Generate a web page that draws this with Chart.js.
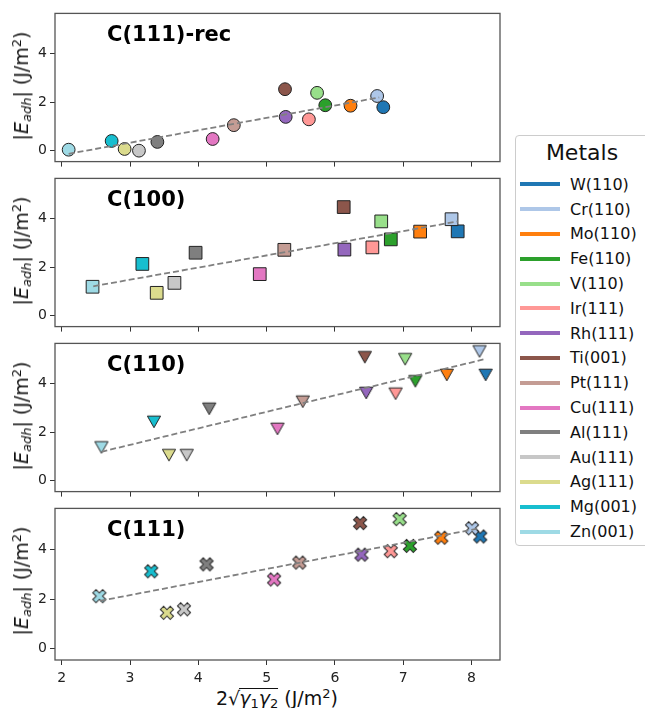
<!DOCTYPE html>
<html>
<head>
<meta charset="utf-8">
<script src="https://cdn.jsdelivr.net/npm/chart.js@4.4.0/dist/chart.umd.min.js"></script>
<style>
  body { margin: 0; background: #fff; width: 645px; height: 708px; overflow: hidden; position: relative; font-family: 'DejaVu Sans', sans-serif; color: #111; }
  .panel { position: absolute; left: 0; }
  .ylabel { position: absolute; left: 22px; transform: translate(-50%, -50%) rotate(-90deg); white-space: nowrap; font-size: 19px; line-height: 22px; }
  .ylabel sub { font-size: 13px; font-style: italic; vertical-align: -3px; }
  .ylabel sup, .xlabel sup { font-size: 13px; vertical-align: 7px; }
  .xlabel { position: absolute; left: 277px; top: 683px; transform: translateX(-50%); white-space: nowrap; font-size: 19px; line-height: 22px; }
  .xlabel .rad { display: inline-block; line-height: 18px; border-top: 1.3px solid #111; margin-left: -1px; }
  .xlabel sub { font-size: 13px; vertical-align: -3px; line-height: 10px; }
  #legend { position: absolute; left: 515px; top: 135px; width: 140px; height: 411px; border: 1px solid #ccc; border-radius: 4px; box-sizing: border-box; }
  #legend .title { font-size: 22px; text-align: center; width: 132px; margin-top: 4px; height: 32px; }
  #legend .row { height: 24.8px; display: flex; align-items: center; font-size: 16px; }
  #legend .swatch { width: 40px; height: 4px; margin-left: 4px; margin-right: 10px; }
</style>
</head>
<body>
<div id="legend"></div>
<div class="xlabel">2√<span class="rad"><i>γ</i><sub>1</sub><i>γ</i><sub>2</sub></span> (J/m<sup>2</sup>)</div>
<script>
// Metals, in legend order
const metals = ['W(110)', 'Cr(110)', 'Mo(110)', 'Fe(110)', 'V(110)', 'Ir(111)', 'Rh(111)', 'Ti(001)',
                'Pt(111)', 'Cu(111)', 'Al(111)', 'Au(111)', 'Ag(111)', 'Mg(001)', 'Zn(001)'];
const metalColors = ['#1f77b4', '#aec7e8', '#ff7f0e', '#2ca02c', '#98df8a', '#ff9896', '#9467bd', '#8c564b',
                     '#c49c94', '#e377c2', '#7f7f7f', '#c7c7c7', '#dbdb8d', '#17becf', '#9edae5'];

// C(111)-rec
const recX = [6.71, 6.62, 6.23, 5.86, 5.74, 5.62, 5.28, 5.27, 4.52, 4.21, 3.40, 3.13, 2.92, 2.73, 2.10];
const recY = [1.79, 2.25, 1.85, 1.87, 2.38, 1.29, 1.39, 2.53, 1.05, 0.48, 0.36, 0.00, 0.07, 0.40, 0.04];
const recFitX = [2.10, 6.65];
const recFitY = [-0.13, 2.19];

// C(100)
const c100X = [7.80, 7.71, 7.25, 6.82, 6.68, 6.55, 6.14, 6.13, 5.26, 4.90, 3.96, 3.65, 3.39, 3.18, 2.45];
const c100Y = [3.47, 3.97, 3.46, 3.14, 3.88, 2.81, 2.72, 4.47, 2.71, 1.71, 2.59, 1.35, 0.94, 2.13, 1.19];
const c100FitX = [2.46, 7.80];
const c100FitY = [1.21, 3.88];

// C(110)
const c110X = [8.21, 8.12, 7.64, 7.18, 7.03, 6.89, 6.46, 6.44, 5.53, 5.16, 4.16, 3.83, 3.57, 3.35, 2.58];
const c110Y = [4.35, 5.32, 4.35, 4.09, 5.00, 3.58, 3.61, 5.08, 3.25, 2.13, 2.96, 1.05, 1.05, 2.42, 1.37];
const c110FitX = [2.58, 8.21];
const c110FitY = [1.19, 5.01];

// C(111)
const c111X = [8.13, 8.01, 7.56, 7.10, 6.95, 6.82, 6.39, 6.37, 5.48, 5.11, 4.12, 3.79, 3.54, 3.31, 2.55];
const c111Y = [4.52, 4.85, 4.47, 4.14, 5.22, 3.93, 3.79, 5.06, 3.47, 2.79, 3.40, 1.59, 1.45, 3.12, 2.12];
const c111FitX = [2.56, 8.12];
const c111FitY = [1.93, 4.85];

const xTicks = [2, 3, 4, 5, 6, 7, 8];
const yTicks = [0, 2, 4];

const FONT = "'DejaVu Sans', sans-serif";

// custom marker images (triangle down, filled X) with dark edge
function markerImage(kind, fill) {
    const c = document.createElement('canvas');
    c.width = 18; c.height = 18;
    const g = c.getContext('2d');
    g.translate(9, 9);
    g.beginPath();
    if (kind === 'tri') {
        g.moveTo(-6.6, -5.8); g.lineTo(6.6, -5.8); g.lineTo(0, 5.8);
    } else {
        const L = 7, w = 2.3;
        const pts = [[w, w], [w, L], [-w, L], [-w, w], [-L, w], [-L, -w], [-w, -w], [-w, -L], [w, -L], [w, -w], [L, -w], [L, w]];
        g.rotate(Math.PI / 4);
        pts.forEach((p, i) => i ? g.lineTo(p[0], p[1]) : g.moveTo(p[0], p[1]));
    }
    g.closePath();
    g.fillStyle = fill;
    g.fill();
    g.strokeStyle = '#222';
    g.lineWidth = 1;
    g.stroke();
    return c;
}

const panelFrame = {
    id: 'panelFrame',
    afterDraw(chart, args, opts) {
        const { ctx, chartArea: a } = chart;
        ctx.save();
        ctx.strokeStyle = '#555';
        ctx.lineWidth = 1.3;
        ctx.strokeRect(a.left, a.top, a.right - a.left, a.bottom - a.top);
        ctx.font = 'bold 21px ' + FONT;
        ctx.fillStyle = '#000';
        ctx.textBaseline = 'alphabetic';
        ctx.fillText(opts.text, a.left + 52, a.top + 28);
        ctx.restore();
    }
};

const panels = [
    { name: 'C(111)-rec', xs: recX, ys: recY, fx: recFitX, fy: recFitY, style: 'circle', top: 12 },
    { name: 'C(100)', xs: c100X, ys: c100Y, fx: c100FitX, fy: c100FitY, style: 'rect', top: 177 },
    { name: 'C(110)', xs: c110X, ys: c110Y, fx: c110FitX, fy: c110FitY, style: 'tri', top: 342 },
    { name: 'C(111)', xs: c111X, ys: c111Y, fx: c111FitX, fy: c111FitY, style: 'x', top: 507 }
];

const PLOT_H = 153;
const PAD_TOP = 10;

panels.forEach((p, idx) => {
    const bottomPanel = idx === panels.length - 1;
    const xh = bottomPanel ? 28 : 8;

    const canvas = document.createElement('canvas');
    canvas.className = 'panel';
    canvas.width = 515;
    canvas.height = PAD_TOP + PLOT_H + xh;
    canvas.style.top = (p.top - PAD_TOP) + 'px';
    document.body.appendChild(canvas);

    const ylab = document.createElement('div');
    ylab.className = 'ylabel';
    ylab.style.top = (p.top + PLOT_H - 79) + 'px';
    ylab.innerHTML = '|<i>E</i><sub>adh</sub>| (J/m<sup>2</sup>)';
    document.body.appendChild(ylab);

    const points = p.xs.map((x, i) => ({ x: x, y: p.ys[i] }));
    const fit = p.fx.map((x, i) => ({ x: x, y: p.fy[i] }));

    const pointDs = {
        type: 'scatter',
        data: points,
        pointBackgroundColor: metalColors,
        pointBorderColor: '#222',
        pointBorderWidth: 1,
        order: 1
    };
    if (p.style === 'circle') {
        pointDs.pointStyle = 'circle';
        pointDs.pointRadius = 6.4;
    } else if (p.style === 'rect') {
        pointDs.pointStyle = 'rect';
        pointDs.pointRadius = 9;
    } else {
        pointDs.pointStyle = metalColors.map(c => markerImage(p.style, c));
        pointDs.pointRadius = 7;
    }

    new Chart(canvas, {
        type: 'scatter',
        data: {
            datasets: [
                {
                    type: 'line',
                    data: fit,
                    borderColor: '#808080',
                    borderWidth: 1.8,
                    borderDash: [6, 3],
                    pointRadius: 0,
                    fill: false,
                    order: 0
                },
                pointDs
            ]
        },
        options: {
            responsive: false,
            animation: false,
            devicePixelRatio: 1,
            layout: { padding: { top: PAD_TOP, right: 15, left: 0, bottom: 0 } },
            plugins: {
                legend: { display: false },
                tooltip: { enabled: false },
                panelFrame: { text: p.name }
            },
            scales: {
                x: {
                    type: 'linear',
                    min: 1.9,
                    max: 8.42,
                    afterBuildTicks: s => { s.ticks = xTicks.map(v => ({ value: v })); },
                    afterFit: s => { s.height = xh; },
                    grid: { drawOnChartArea: false, tickLength: 5, tickColor: '#333' },
                    border: { display: false },
                    ticks: { display: bottomPanel, color: '#222', padding: 5, maxRotation: 0, font: { size: 14, family: FONT } }
                },
                y: {
                    min: -0.45,
                    max: 5.65,
                    afterBuildTicks: s => { s.ticks = yTicks.map(v => ({ value: v })); },
                    afterFit: s => { s.width = 55; },
                    grid: { drawOnChartArea: false, tickLength: 5, tickColor: '#333' },
                    border: { display: false },
                    ticks: { color: '#222', padding: 3, font: { size: 14, family: FONT } }
                }
            }
        },
        plugins: [panelFrame]
    });
});

// legend
const legend = document.getElementById('legend');
legend.innerHTML = '<div class="title">Metals</div>' + metals.map((m, i) =>
    '<div class="row"><span class="swatch" style="background:' + metalColors[i] + '"></span>' + m + '</div>'
).join('');
</script>
</body>
</html>
